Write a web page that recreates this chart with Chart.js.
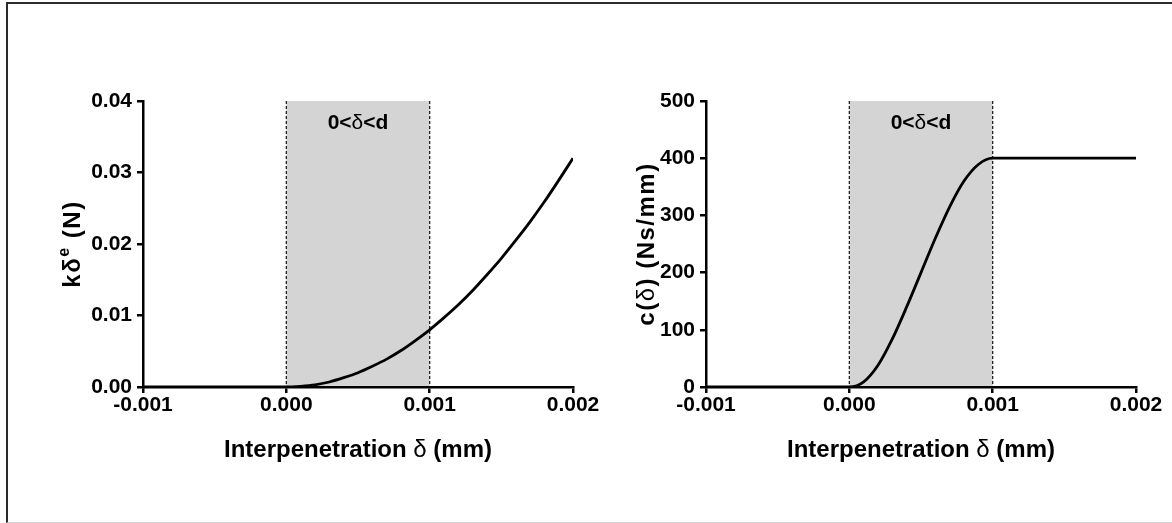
<!DOCTYPE html>
<html><head><meta charset="utf-8">
<script src="https://cdn.jsdelivr.net/npm/chart.js@4.4.1/dist/chart.umd.min.js"></script>
<style>
html,body{margin:0;padding:0;background:#fff;width:1172px;height:523px;overflow:hidden}
#frame{position:absolute;left:6px;top:2px;width:1180px;height:518px;border-left:2px solid #2b2b2b;border-top:2px solid #2b2b2b;border-bottom:1px solid #d6d6d6}
canvas{position:absolute;top:0}
</style></head><body>
<div id="frame"></div>
<canvas id="c1" width="600" height="523" style="left:0px"></canvas>
<canvas id="c2" width="600" height="523" style="left:563px"></canvas>
<script>
// ---- data ----
const xTickValues = [-0.001, 0, 0.001, 0.002];
const xTickLabels = ['-0.001', '0.000', '0.001', '0.002'];
const forceTickValues = [0, 0.01, 0.02, 0.03, 0.04];
const forceTickLabels = ['0.00', '0.01', '0.02', '0.03', '0.04'];
const dampTickValues = [0, 100, 200, 300, 400, 500];
const dampTickLabels = ['0', '100', '200', '300', '400', '500'];

const deltaForce = [-0.001, 0, 0.0001, 0.0002, 0.0003, 0.0004, 0.0005, 0.0006, 0.0007, 0.0008, 0.0009, 0.001,
                    0.0011, 0.0012, 0.0013, 0.0014, 0.0015, 0.0016, 0.0017, 0.0018, 0.0019, 0.002];
const forceValues = [0, 0, 0.0001, 0.0003, 0.0007, 0.0013, 0.002, 0.0029, 0.0039, 0.0051, 0.0065, 0.008,
                     0.0097, 0.0115, 0.0135, 0.0157, 0.018, 0.0205, 0.0231, 0.0259, 0.0289, 0.032];

const deltaDamp = [-0.001, 0, 0.0001, 0.0002, 0.0003, 0.0004, 0.0005, 0.0006, 0.0007, 0.0008, 0.0009, 0.001, 0.0015, 0.002];
const dampValues = [0, 0, 9, 38, 84, 140, 200, 260, 315, 360, 389, 400, 400, 400];

const bandRange = [0, 0.001];
const bandLabel = ['0<', 'δ', '<d'];

// ---- styling helpers ----
const FONT = "'Liberation Sans', Arial, Helvetica, sans-serif";

function drawRich(ctx, segs, cx, cy, angle, spacing) {
  ctx.save();
  ctx.translate(cx, cy);
  ctx.rotate(angle);
  ctx.textBaseline = 'alphabetic';
  ctx.textAlign = 'left';
  ctx.fillStyle = '#000';
  ctx.letterSpacing = (spacing || 0) + 'px';
  let total = 0;
  segs.forEach(s => { ctx.font = s.font; s.w = ctx.measureText(s.t).width; total += s.w; });
  let x = -total / 2;
  segs.forEach(s => { ctx.font = s.font; ctx.fillText(s.t, x, s.dy || 0); x += s.w; });
  ctx.restore();
}

const B24 = 'bold 24px ' + FONT;
const N24 = '24px ' + FONT;

function makeChart(id, xs, ys, yMin, yMax, yTickVals, yTickLbls, yTitleSegs) {
  const bandPlugin = {
    id: 'band',
    beforeDraw(chart) {
      const {ctx, chartArea: a, scales: {x}} = chart;
      const x0 = x.getPixelForValue(bandRange[0]);
      const x1 = x.getPixelForValue(bandRange[1]);
      ctx.save();
      ctx.fillStyle = '#d4d4d4';
      ctx.fillRect(x0, a.top, x1 - x0, a.bottom - a.top);
      ctx.strokeStyle = '#222';
      ctx.lineWidth = 1.3;
      ctx.setLineDash([3, 2]);
      [x0, x1].forEach(px => {
        ctx.beginPath();
        ctx.moveTo(px, a.top);
        ctx.lineTo(px, a.bottom);
        ctx.stroke();
      });
      ctx.setLineDash([]);
      drawRich(ctx, [
        {t: bandLabel[0], font: 'bold 21px ' + FONT},
        {t: bandLabel[1], font: '21px ' + FONT},
        {t: bandLabel[2], font: 'bold 21px ' + FONT}
      ], (x0 + x1) / 2, a.top + 28, 0);
      ctx.restore();
    },
    afterDraw(chart) {
      const {ctx, chartArea: a} = chart;
      drawRich(ctx, [
        {t: 'Interpenetration ', font: B24},
        {t: 'δ', font: N24},
        {t: ' (mm)', font: B24}
      ], (a.left + a.right) / 2, 457, 0);
      drawRich(ctx, yTitleSegs.segs, yTitleSegs.x, (a.top + a.bottom) / 2, -Math.PI / 2, 1.5);
    }
  };

  return new Chart(document.getElementById(id), {
    type: 'line',
    data: {
      datasets: [{
        data: xs.map((v, i) => ({x: v, y: ys[i]})),
        borderColor: '#000',
        borderWidth: 2.8,
        pointRadius: 0,
        cubicInterpolationMode: 'monotone',
        fill: false
      }]
    },
    options: {
      responsive: false,
      animation: false,
      devicePixelRatio: 1,
      layout: {padding: {left: 0, right: 27, top: 101, bottom: 0}},
      plugins: {legend: {display: false}, tooltip: {enabled: false}},
      scales: {
        x: {
          type: 'linear',
          min: xTickValues[0],
          max: xTickValues[xTickValues.length - 1],
          afterBuildTicks: s => { s.ticks = xTickValues.map(v => ({value: v})); },
          afterFit: s => { s.height = 136; },
          border: {display: true, color: '#000', width: 2.5},
          grid: {display: true, drawOnChartArea: false, drawTicks: true, tickLength: 6, color: '#000', lineWidth: 2.5},
          ticks: {
            color: '#000', padding: 0, maxRotation: 0, autoSkip: false,
            font: {family: FONT, size: 21, weight: 'bold'},
            callback: (v, i) => xTickLabels[i]
          }
        },
        y: {
          type: 'linear',
          min: yMin,
          max: yMax,
          afterBuildTicks: s => { s.ticks = yTickVals.map(v => ({value: v})); },
          afterFit: s => { s.width = 143; },
          border: {display: true, color: '#000', width: 2.5},
          grid: {display: true, drawOnChartArea: false, drawTicks: true, tickLength: 6, color: '#000', lineWidth: 2.5},
          ticks: {
            color: '#000', padding: 5, autoSkip: false,
            font: {family: FONT, size: 21, weight: 'bold'},
            callback: (v, i) => yTickLbls[i]
          }
        }
      }
    },
    plugins: [bandPlugin]
  });
}

makeChart('c1', deltaForce, forceValues, 0, 0.04, forceTickValues, forceTickLabels, {
  x: 80,
  segs: [
    {t: 'kδ', font: B24},
    {t: 'e', font: 'bold 16px ' + FONT, dy: -11},
    {t: ' (N)', font: B24}
  ]
});

makeChart('c2', deltaDamp, dampValues, 0, 500, dampTickValues, dampTickLabels, {
  x: 654 - 563,
  segs: [
    {t: 'c(', font: B24},
    {t: 'δ', font: N24},
    {t: ') (Ns/mm)', font: B24}
  ]
});
</script></body></html>
